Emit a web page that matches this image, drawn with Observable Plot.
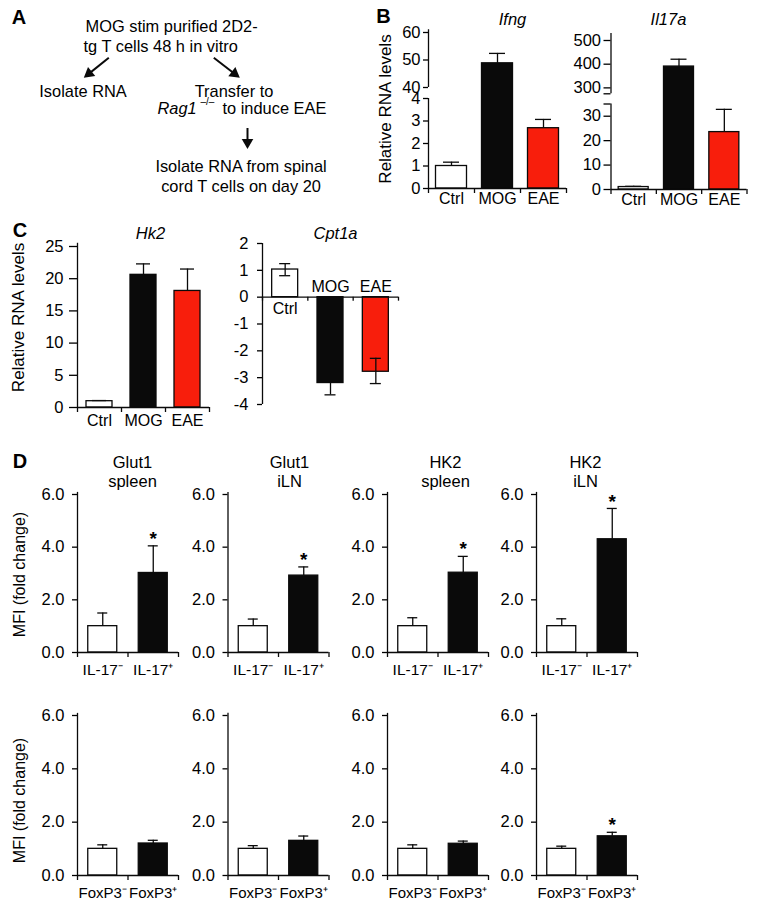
<!DOCTYPE html>
<html>
<head>
<meta charset="utf-8">
<script src="https://cdn.jsdelivr.net/npm/d3@7"></script>
<script src="https://cdn.jsdelivr.net/npm/@observablehq/plot@0.6"></script>
<style>
  html, body { margin: 0; padding: 0; background: #fff; }
  #fig { position: relative; width: 758px; height: 906px; overflow: hidden; background: #fff; }
  #fig svg { position: absolute; }
</style>
</head>
<body>
<div id="fig"></div>
<script>
// ---------------- DATA ----------------
const groupsRNA = ["Ctrl", "MOG", "EAE"];
const ifngMean = [1.0, 48.8, 2.68];
const ifngErrHi = [1.17, 52.4, 3.07];
const il17aMean = [1.0, 390, 23.5];
const il17aErrHi = [1.3, 421, 32.8];
const hk2Mean = [0.98, 20.6, 18.1];
const hk2ErrHi = [1.08, 22.3, 21.5];
const cpt1aMean = [1.03, -3.2, -2.78];
const cpt1aErrHi = [1.25, null, -2.28];
const cpt1aErrLo = [0.8, -3.64, -3.22];

const ifngTicks = [0, 1, 2, 3, 4, 40, 50, 60];
const il17aTicks = [0, 10, 20, 30, 300, 400, 500];
const hk2Ticks = [0, 5, 10, 15, 20, 25];
const cpt1aTicks = [-4, -3, -2, -1, 0, 1, 2];
const mfiTicks = [0, 2, 4, 6];

const il17Groups = ["IL-17\u207B", "IL-17\u207A"];
const foxp3Groups = ["FoxP3\u207B", "FoxP3\u207A"];
const mfiTitles = ["Glut1\nspleen", "Glut1\niLN", "HK2\nspleen", "HK2\niLN"];
const il17Mean = [[1.0, 3.02], [1.0, 2.92], [1.0, 3.03], [1.0, 4.3]];
const il17ErrHi = [[1.5, 4.05], [1.27, 3.25], [1.32, 3.65], [1.28, 5.47]];
const il17Sig = [[false, true], [false, true], [false, true], [false, true]];
const foxp3Mean = [[1.0, 1.2], [1.0, 1.3], [1.0, 1.19], [1.0, 1.47]];
const foxp3ErrHi = [[1.15, 1.32], [1.12, 1.48], [1.15, 1.29], [1.1, 1.62]];
const foxp3Sig = [[false, false], [false, false], [false, false], [false, true]];

const flowLines = ["MOG stim purified 2D2-", "tg T cells 48 h in vitro", "Isolate RNA", "Transfer to",
                   "Isolate RNA from spinal", "cord T cells on day 20"];
const ragParts = ["Rag1", "\u2013/\u2013", "to induce EAE"];
const panelLetters = ["A", "B", "C", "D"];
const yLabelRNA = "Relative RNA levels";
const yLabelMFI = "MFI (fold change)";

// ---------------- LAYOUT / STYLE ----------------
const FONT = '"Liberation Sans", Arial, Helvetica, sans-serif';
const RED = "#f81e0c", BLACK = "#0a0a0a", WHITE = "#ffffff";
const fig = document.getElementById("fig");
function put(svg, left, top) { svg.style.left = left + "px"; svg.style.top = top + "px"; fig.appendChild(svg); }
const baseStyle = { fontFamily: FONT, fontSize: "16px", background: "transparent", color: "#000", overflow: "visible" };

// ---------- Overlay: panel A diagram + panel letters ----------
(function overlay() {
  const flowPos = [
    { x: 85, y: 26.7, a: "start" }, { x: 83, y: 45.8, a: "start" },
    { x: 82.5, y: 90.8, a: "middle" }, { x: 233.5, y: 90.8, a: "middle" },
    { x: 240.5, y: 166.5, a: "middle" }, { x: 240.5, y: 186.5, a: "middle" }
  ];
  const flowRows = flowLines.map((t, i) => ({ t, ...flowPos[i] }));
  const ragPos = [{ x: 157, y: 108.3, fs: 16.4, st: "italic" }, { x: 200, y: 101.5, fs: 10, st: "normal" }, { x: 222, y: 108.3, fs: 16.4, st: "normal" }];
  const arrows = [
    { x1: 108.3, y1: 57.3, x2: 83.3, y2: 77.3 },
    { x1: 213.3, y1: 57.3, x2: 239.3, y2: 77.3 },
    { x1: 247, y1: 127.5, x2: 247, y2: 148.5 }
  ];
  const headR = 4.3;
  const tipOff = 2 * Math.sqrt(Math.PI * headR * headR / (3 * Math.sqrt(3)));
  const shafts = arrows.map(a => {
    const L = Math.hypot(a.x2 - a.x1, a.y2 - a.y1), ux = (a.x2 - a.x1) / L, uy = (a.y2 - a.y1) / L;
    return { x1: a.x1, y1: a.y1, x2: a.x2 - ux * tipOff, y2: a.y2 - uy * tipOff,
             hx: a.x2 - ux * tipOff, hy: a.y2 - uy * tipOff,
             rot: Math.atan2(ux, -uy) * 180 / Math.PI };
  });
  const letterPos = [{ x: 18.5, y: 17.5 }, { x: 383, y: 16 }, { x: 19.5, y: 230 }, { x: 19.5, y: 461 }];
  const letters = panelLetters.map((t, i) => ({ t, ...letterPos[i] }));
  const marks = [
    Plot.text(flowRows.filter(d => d.a === "start"), { x: "x", y: "y", text: "t", textAnchor: "start", fontSize: 16.4 }),
    Plot.text(flowRows.filter(d => d.a === "middle"), { x: "x", y: "y", text: "t", textAnchor: "middle", fontSize: 16.4 }),
    ...ragParts.map((t, i) => Plot.text([t], { x: ragPos[i].x, y: ragPos[i].y, text: d => d, textAnchor: "start", fontSize: ragPos[i].fs, fontStyle: ragPos[i].st })),
    Plot.link(shafts, { x1: "x1", y1: "y1", x2: "x2", y2: "y2", stroke: BLACK, strokeWidth: 2 }),
    Plot.dot(shafts, { x: "hx", y: "hy", symbol: "triangle", r: headR, fill: BLACK, stroke: "none", rotate: "rot" }),
    Plot.text(letters, { x: "x", y: "y", text: "t", fontSize: 20, fontWeight: "bold", fill: "#000" })
  ];
  const svg = Plot.plot({
    width: 758, height: 906, margin: 0,
    x: { type: "identity", axis: null }, y: { type: "identity", axis: null },
    style: baseStyle, marks
  });
  put(svg, 0, 0);
})();

// ---------- Generic bar chart ----------
function barChart(c) {
  const n = c.cats.length;
  const yTop = Math.min(...c.range), yBot = Math.max(...c.range);
  const L = Math.max(0, Math.floor(c.x0 - 72));
  const R = Math.min(758, Math.ceil(c.x1 + 16));
  const T = Math.max(0, Math.floor(Math.min(yTop - 14, c.titleY != null ? c.titleY - 26 : yTop)));
  const B = Math.min(906, Math.ceil(yBot + 32));
  const yPage = d3.scaleLinear(c.domain, c.range);
  const catPx = (c.x1 - c.x0) / n;
  const half = c.barPx / catPx / 2;
  const capHalf = c.capPx / catPx / 2;
  const tickDown = yPage.invert(yPage(0) + c.xTickPx);
  const rows = c.cats.map((cat, i) => ({
    cat, ctr: i + 0.5, mean: c.mean[i],
    hi: c.errHi ? c.errHi[i] : null, lo: c.errLo ? c.errLo[i] : null,
    fill: c.fills[i], sig: c.sig ? c.sig[i] : false
  }));
  const errRows = rows.filter(d => d.hi != null || d.lo != null)
    .map(d => ({ ctr: d.ctr, y1: d.lo ?? d.mean, y2: d.hi ?? d.mean }));
  const caps = rows.flatMap(d => [d.hi, d.lo].filter(v => v != null).map(v => ({ ctr: d.ctr, y: v })));
  const allTicks = c.ticks.concat(c.extraTicks || []);
  const fmt = d => (c.ticks.includes(d) ? c.fmt(d) : "");
  const sw = 1.3;
  const marks = [
    Plot.rectY(rows, { x1: d => d.ctr - half, x2: d => d.ctr + half, y1: 0, y2: "mean", fill: "fill", stroke: BLACK, strokeWidth: sw }),
    Plot.ruleX(errRows, { x: "ctr", y1: "y1", y2: "y2", stroke: BLACK, strokeWidth: sw }),
    Plot.ruleY(caps, { y: "y", x1: d => d.ctr - capHalf, x2: d => d.ctr + capHalf, stroke: BLACK, strokeWidth: sw }),
    Plot.ruleX(c.segments, { x: 0, y1: d => d[0], y2: d => d[1], stroke: BLACK, strokeWidth: sw }),
    Plot.ruleY([0], { x1: 0, x2: n, stroke: BLACK, strokeWidth: sw }),
    Plot.ruleX(d3.range(n + 1), { x: d => d, y1: 0, y2: tickDown, stroke: BLACK, strokeWidth: sw }),
    Plot.axisY(allTicks, { tickSize: c.tickSize, tickPadding: c.tickPadding, tickFormat: fmt, fontSize: c.tickFont || 16.5, strokeWidth: sw, label: null }),
    Plot.text(rows.filter(d => d.mean >= 0), { x: "ctr", y: 0, text: "cat", dy: c.labelDy, fontSize: c.labelFont || 16 }),
    Plot.text(rows.filter(d => d.mean < 0), { x: "ctr", y: 0, text: "cat", dy: -(c.labelDyNeg || c.labelDy), fontSize: c.labelFont || 16 }),
    Plot.text(rows.filter(d => d.sig), { x: "ctr", y: "hi", text: () => "*", dy: -7, fontSize: 19, fontWeight: "bold" })
  ];
  if (c.title) marks.push(Plot.text([c.title], {
    frameAnchor: "top", lineAnchor: "middle", textAnchor: "middle", text: d => d,
    dx: c.titleX - (c.x0 + c.x1) / 2, dy: c.titleY - yTop,
    fontStyle: c.titleItalic ? "italic" : "normal", fontSize: 16.5, lineHeight: 1.17
  }));
  if (c.yLabel) marks.push(Plot.text([c.yLabel], {
    frameAnchor: "left", textAnchor: "middle", lineAnchor: "middle", text: d => d, rotate: -90,
    dx: c.yLabelX - c.x0, dy: c.yLabelY - (yTop + yBot) / 2,
    fontSize: c.yLabelFont || 16
  }));
  const svg = Plot.plot({
    width: R - L, height: B - T,
    marginLeft: c.x0 - L, marginRight: R - c.x1, marginTop: yTop - T, marginBottom: B - yBot,
    x: { type: "linear", domain: [0, n], axis: null },
    y: { type: "linear", domain: c.domain, range: c.range.map(p => p - T) },
    color: { type: "identity" },
    style: baseStyle,
    marks
  });
  put(svg, L, T);
}

const fillsRNA = [WHITE, BLACK, RED];
const fillsMFI = [WHITE, BLACK];
const intFmt = d => String(d);

// ---- Panel B ----
barChart({
  cats: groupsRNA, mean: ifngMean, errHi: ifngErrHi, fills: fillsRNA,
  x0: 428, x1: 566, domain: [0, 4, 40, 60], range: [188, 98, 87, 32],
  segments: [[0, 4], [40, 61]], ticks: ifngTicks, fmt: intFmt,
  tickSize: 5, tickPadding: 3, barPx: 31, capPx: 16, xTickPx: 5, labelDy: 10,
  title: "Ifng", titleItalic: true, titleX: 512, titleY: 18,
  yLabel: yLabelRNA, yLabelX: 385, yLabelY: 108.5, yLabelFont: 17
});
barChart({
  cats: groupsRNA, mean: il17aMean, errHi: il17aErrHi, fills: fillsRNA,
  x0: 610.5, x1: 746.5, domain: [0, 35, 275, 500], range: [189, 103.5, 93.3, 40],
  segments: [[0, 35], [275, 530]], ticks: il17aTicks, extraTicks: [35, 275], fmt: intFmt,
  tickSize: 7, tickPadding: 3, barPx: 30, capPx: 16, xTickPx: 5, labelDy: 10,
  title: "Il17a", titleItalic: true, titleX: 668, titleY: 18
});

// ---- Panel C ----
barChart({
  cats: groupsRNA, mean: hk2Mean, errHi: hk2ErrHi, fills: fillsRNA,
  x0: 77, x1: 209, domain: [0, 25], range: [407, 246],
  segments: [[0, 25.5]], ticks: hk2Ticks, fmt: intFmt,
  tickSize: 8, tickPadding: 6, barPx: 26, capPx: 14, xTickPx: 5, labelDy: 13,
  title: "Hk2", titleItalic: true, titleX: 150, titleY: 232,
  yLabel: yLabelRNA, yLabelX: 18, yLabelY: 317, yLabelFont: 17
});
barChart({
  cats: groupsRNA, mean: cpt1aMean, errHi: cpt1aErrHi, errLo: cpt1aErrLo, fills: fillsRNA,
  x0: 262, x1: 398, domain: [-4, 2], range: [404, 243],
  segments: [[-4, 2]], ticks: cpt1aTicks, fmt: intFmt,
  tickSize: 5, tickPadding: 9, barPx: 26, capPx: 11, xTickPx: 4, labelDy: 11.5, labelDyNeg: 10,
  title: "Cpt1a", titleItalic: true, titleX: 335, titleY: 232
});

// ---- Panel D ----
const dX0 = [77, 227.5, 387, 536];
const dTitleX = [132, 289, 445, 585];
const f1 = d3.format(".1f");
dX0.forEach((x0, k) => {
  barChart({
    cats: il17Groups, mean: il17Mean[k], errHi: il17ErrHi[k], sig: il17Sig[k], fills: fillsMFI,
    x0, x1: x0 + 101, domain: [0, 6], range: [652, 494],
    segments: [[0, 6.08]], ticks: mfiTicks, fmt: f1,
    tickSize: 5, tickPadding: 8, tickFont: 16.5,
    barPx: 29, capPx: 10, xTickPx: 5, labelDy: 18, labelFont: 15.5,
    title: mfiTitles[k], titleX: dTitleX[k], titleY: 470.5,
    yLabel: k === 0 ? yLabelMFI : null, yLabelX: 19, yLabelY: 574
  });
  barChart({
    cats: foxp3Groups, mean: foxp3Mean[k], errHi: foxp3ErrHi[k], sig: foxp3Sig[k], fills: fillsMFI,
    x0, x1: x0 + 101, domain: [0, 6], range: [875, 715],
    segments: [[0, 6.08]], ticks: mfiTicks, fmt: f1,
    tickSize: 5, tickPadding: 8, tickFont: 16.5,
    barPx: 29, capPx: 10, xTickPx: 5, labelDy: 17.5, labelFont: 15,
    yLabel: k === 0 ? yLabelMFI : null, yLabelX: 19, yLabelY: 800
  });
});
</script>
</body>
</html>
